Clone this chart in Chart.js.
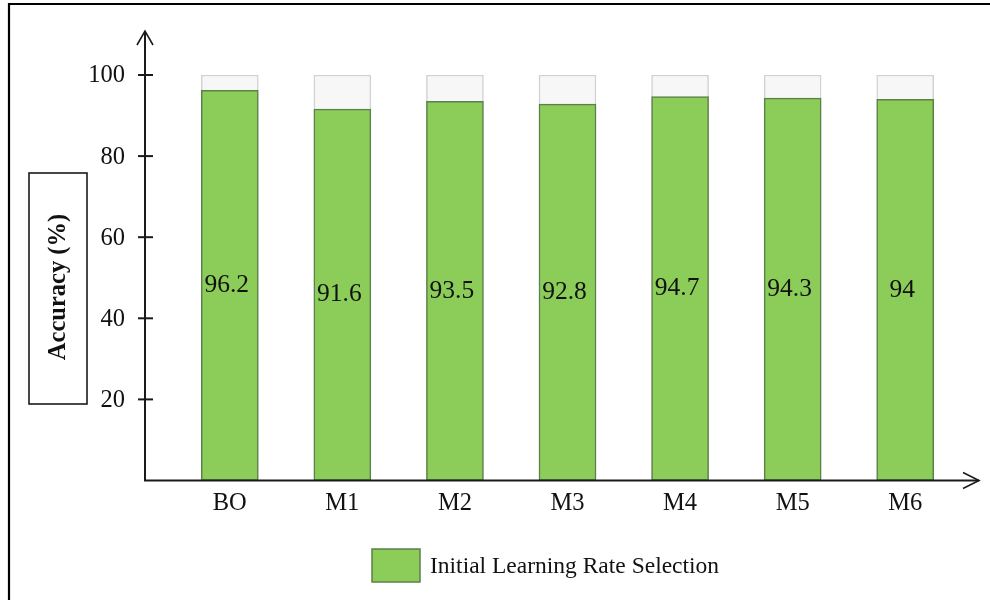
<!DOCTYPE html>
<html>
<head>
<meta charset="utf-8">
<script src="https://cdn.jsdelivr.net/npm/chart.js@4"></script>
<style>
  html, body { margin: 0; padding: 0; background: #fff; }
  #wrap { width: 990px; height: 600px; }
</style>
</head>
<body>
<div id="wrap"><canvas id="accChart"></canvas></div>
<script>
// data
const categories = ["BO", "M1", "M2", "M3", "M4", "M5", "M6"];
const accuracy = [96.2, 91.6, 93.5, 92.8, 94.7, 94.3, 94];
const yTicks = [20, 40, 60, 80, 100];
const yMax = 100;
const seriesName = "Initial Learning Rate Selection";
const yTitle = "Accuracy (%)";

const SERIF = '"Liberation Serif", "Times New Roman", serif';
const GREEN = "#8bcd58";
const GREEN_EDGE = "#5d7f48";

// axes with arrows, tick marks, labels, boxed title, legend and frame
const decorations = {
    id: "decorations",
    afterDatasetsDraw(chart) {
        const ctx = chart.ctx;
        const x = chart.scales.x;
        const y = chart.scales.y;
        const axisX = 145;
        const axisY = y.getPixelForValue(0);

        ctx.save();

        // frame
        ctx.strokeStyle = "#000";
        ctx.lineWidth = 2.2;
        ctx.beginPath();
        ctx.moveTo(9, 600);
        ctx.lineTo(9, 4);
        ctx.lineTo(990, 4);
        ctx.stroke();

        // axis lines
        ctx.strokeStyle = "#1a1a1a";
        ctx.lineWidth = 2;
        ctx.beginPath();
        ctx.moveTo(axisX, axisY);
        ctx.lineTo(axisX, 31);
        ctx.moveTo(axisX - 1, axisY);
        ctx.lineTo(979, axisY);
        ctx.stroke();

        ctx.lineWidth = 1.6;
        ctx.beginPath();
        ctx.moveTo(axisX - 8, 45);
        ctx.lineTo(axisX, 31);
        ctx.lineTo(axisX + 8, 45);
        ctx.moveTo(963, axisY - 8);
        ctx.lineTo(979, axisY);
        ctx.lineTo(963, axisY + 8);
        ctx.stroke();

        // y ticks
        ctx.lineWidth = 2;
        ctx.fillStyle = "#111";
        ctx.font = "24.5px " + SERIF;
        ctx.textAlign = "right";
        ctx.textBaseline = "middle";
        yTicks.forEach(v => {
            const py = y.getPixelForValue(v);
            ctx.beginPath();
            ctx.moveTo(axisX - 7, py);
            ctx.lineTo(axisX + 8, py);
            ctx.stroke();
            ctx.fillText(String(v), 125, py + 1);
        });

        // category labels
        ctx.textAlign = "center";
        categories.forEach((c, i) => {
            ctx.fillText(c, x.getPixelForValue(i), axisY + 23);
        });

        // value labels in the middle of each bar
        const meta = chart.getDatasetMeta(0);
        ctx.font = "25.5px " + SERIF;
        meta.data.forEach((bar, i) => {
            const p = bar.getProps(["x", "y", "base"], true);
            ctx.fillText(String(accuracy[i]), p.x - 3, (p.y + p.base) / 2);
        });

        // boxed y title
        ctx.lineWidth = 1.6;
        ctx.strokeRect(29, 173, 58, 231);
        ctx.save();
        ctx.translate(59, 287);
        ctx.rotate(-Math.PI / 2);
        ctx.font = "bold 24.5px " + SERIF;
        ctx.fillText(yTitle, 0, 0);
        ctx.restore();

        // legend
        ctx.fillStyle = GREEN;
        ctx.fillRect(372, 549, 48, 33);
        ctx.strokeStyle = GREEN_EDGE;
        ctx.lineWidth = 1.5;
        ctx.strokeRect(372, 549, 48, 33);
        ctx.fillStyle = "#111";
        ctx.font = "23.5px " + SERIF;
        ctx.textAlign = "left";
        ctx.fillText(seriesName, 430, 567);

        ctx.restore();
    }
};

new Chart(document.getElementById("accChart"), {
    type: "bar",
    data: {
        labels: categories,
        datasets: [
            {
                label: seriesName,
                data: accuracy,
                backgroundColor: GREEN,
                borderColor: GREEN_EDGE,
                borderWidth: 1.5,
                borderSkipped: false,
                barThickness: 57,
                grouped: false,
                order: 0
            },
            {
                label: "scale",
                data: categories.map(() => yMax),
                backgroundColor: "#f7f7f7",
                borderColor: "#d2d2d2",
                borderWidth: 1.5,
                borderSkipped: false,
                barThickness: 57,
                grouped: false,
                order: 1
            }
        ]
    },
    options: {
        responsive: true,
        maintainAspectRatio: false,
        animation: false,
        layout: {
            padding: { left: 173.5, right: 28.5, top: 75, bottom: 119.5 }
        },
        plugins: {
            legend: { display: false },
            tooltip: { enabled: false }
        },
        scales: {
            x: { display: false },
            y: { display: false, min: 0, max: yMax }
        }
    },
    plugins: [decorations]
});
</script>
</body>
</html>
